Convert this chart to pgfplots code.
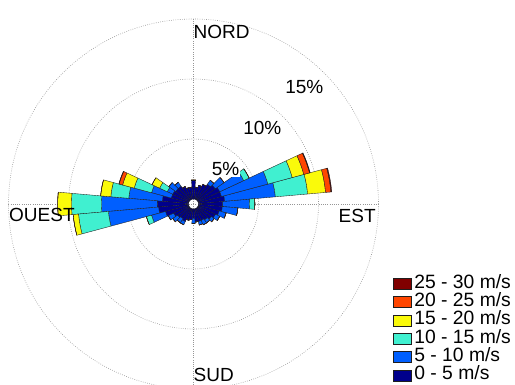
\documentclass[border=0pt]{standalone}
\usepackage{fontspec}
\setmainfont{Liberation Sans}
\usepackage{pgfplots}
\usepackage{pgfplotstable}
\pgfplotsset{compat=1.18}

\definecolor{cN}{RGB}{0,0,140}
\definecolor{cB}{RGB}{0,95,255}
\definecolor{cC}{RGB}{64,240,208}
\definecolor{cY}{RGB}{250,250,10}
\definecolor{cO}{RGB}{255,70,0}
\definecolor{cR}{RGB}{128,0,0}
\definecolor{edgecol}{RGB}{30,30,30}
\definecolor{gridcol}{RGB}{150,150,150}

% annular sector drawn around the rose centre; the mark sits at the outer tip of the segment
\pgfdeclareplotmark{wedge}{%
  \pgfmathsetmacro\wRa{5+12*\wL}%
  \pgfmathsetmacro\wRb{5+12*\wH}%
  \pgfmathsetmacro\wOx{-\wRb*cos(\wT)}%
  \pgfmathsetmacro\wOy{-\wRb*sin(\wT)}%
  \pgfmathsetmacro\wAa{\wT-5}%
  \pgfmathsetmacro\wAb{\wT+5}%
  \pgfpathmoveto{\pgfpointadd{\pgfpoint{\wOx pt}{\wOy pt}}{\pgfpointpolar{\wAa}{\wRa pt}}}%
  \pgfpatharc{\wAa}{\wAb}{\wRa pt}%
  \pgfpathlineto{\pgfpointadd{\pgfpoint{\wOx pt}{\wOy pt}}{\pgfpointpolar{\wAb}{\wRb pt}}}%
  \pgfpatharc{\wAb}{\wAa}{\wRb pt}%
  \pgfpathclose
  \pgfusepathqfillstroke
}

% direction (deg, counter-clockwise from East) and frequency (%) per speed class
\pgfplotstableread{
t    n    b    c    y    o    r
0    2.0  2.25 0.45 0    0    0
10   2.2  4.23 2.7  1.5  0.45 0.07
20   2.0  4.0  2.1  1.0  0.5  0.05
30   2.0  2.2  0.5  0    0    0
40   1.8  0.9  0    0    0    0
50   1.6  0.4  0    0    0    0
60   1.4  0    0    0    0    0
70   1.2  0    0    0    0    0
80   1.0  0    0    0    0    0
90   1.6  0    0    0    0    0
100  1.0  0    0    0    0    0
110  1.0  0    0    0    0    0
120  1.2  0    0    0    0    0
130  1.4  0.4  0    0    0    0
140  1.4  0.7  0    0    0    0
150  1.5  0.5  0.7  0.7  0    0
160  1.5  1.7  1.5  1.0  0.3  0.03
170  2.2  2.8  1.5  0.85 0    0
180  2.6  4.65 2.5  1.15 0    0
190  2.5  4.2  2.5  0.45 0    0
200  2.0  1.2  0.45 0    0    0
210  1.4  0.5  0    0    0    0
220  1.2  0.5  0    0    0    0
230  1.1  0.4  0    0    0    0
240  1.2  0.3  0    0    0    0
250  1.0  0    0    0    0    0
260  0.9  0    0    0    0    0
270  0.8  0.4  0    0    0    0
280  1.1  0    0    0    0    0
290  1.1  0.3  0    0    0    0
300  1.1  0.4  0    0    0    0
310  1.2  0.3  0    0    0    0
320  1.4  0.3  0    0    0    0
330  1.6  0.4  0    0    0    0
340  1.8  0.6  0    0    0    0
350  2.0  1.3  0    0    0    0
}\winddata

\newcommand\windclass[3]{%
  \addplot[forget plot, only marks, mark=wedge,
    mark options={fill=#3, draw=edgecol, line width=0.35pt},
    visualization depends on={\thisrow{t} \as \wT},
    visualization depends on={#1 \as \wL},
    visualization depends on={#2 \as \wH},
  ] table[x expr={(#2+0.4167)*cos(\thisrow{t})},
          y expr={(#2+0.4167)*sin(\thisrow{t})}] {\winddata};
}

\pgfplotsset{
  sq/.style={legend image code/.code={\draw[fill=#1,draw=edgecol,line width=0.35pt] (0pt,-5.5pt) rectangle (17.5pt,5.5pt);}},
}
\tikzset{gridline/.style={draw=gridcol, line width=0.6pt, dash pattern=on 0.7pt off 1.5pt}}

\begin{document}
\fontsize{19}{22}\selectfont
\begin{tikzpicture}
% polar grid
\draw[gridline] (0,0) circle[radius=65pt];
\draw[gridline] (0,0) circle[radius=125pt];
\draw[gridline] (0,0) circle[radius=185pt];
\draw[gridline] (0pt,-185pt) -- (0pt,185pt);
\draw[gridline] (-185pt,0pt) -- (185pt,0pt);
\begin{axis}[
  at={(0,0)}, anchor=center,
  x=12pt, y=12pt,
  xmin=-15.4167, xmax=15.4167, ymin=-15.4167, ymax=15.4167,
  hide axis, clip=false,
  legend cell align=left,
  legend style={draw=none, fill=none, inner sep=0pt, outer sep=0pt,
    at={(1.0392,0.3095)}, anchor=north west,
    row sep=0pt, column sep=3.5pt,
    font=\fontsize{19.3}{22}\selectfont,
    nodes={inner sep=0pt, text height=13.6pt, text depth=4.73pt}},
]
\windclass{0}{\thisrow{n}}{cN}
\windclass{\thisrow{n}}{\thisrow{n}+\thisrow{b}}{cB}
\windclass{\thisrow{n}+\thisrow{b}}{\thisrow{n}+\thisrow{b}+\thisrow{c}}{cC}
\windclass{\thisrow{n}+\thisrow{b}+\thisrow{c}}{\thisrow{n}+\thisrow{b}+\thisrow{c}+\thisrow{y}}{cY}
\windclass{\thisrow{n}+\thisrow{b}+\thisrow{c}+\thisrow{y}}{\thisrow{n}+\thisrow{b}+\thisrow{c}+\thisrow{y}+\thisrow{o}}{cO}
\windclass{\thisrow{n}+\thisrow{b}+\thisrow{c}+\thisrow{y}+\thisrow{o}}{\thisrow{n}+\thisrow{b}+\thisrow{c}+\thisrow{y}+\thisrow{o}+\thisrow{r}}{cR}
\addlegendimage{sq=cR}\addlegendentry{25 - 30 m/s}
\addlegendimage{sq=cO}\addlegendentry{20 - 25 m/s}
\addlegendimage{sq=cY}\addlegendentry{15 - 20 m/s}
\addlegendimage{sq=cC}\addlegendentry{10 - 15 m/s}
\addlegendimage{sq=cB}\addlegendentry{5 - 10 m/s}
\addlegendimage{sq=cN}\addlegendentry{0 - 5 m/s}
\end{axis}
\node[anchor=west, inner sep=0pt] at (0pt,172.3pt) {NORD};
\node[anchor=west, inner sep=0pt] at (145pt,-11.5pt) {EST};
\node[anchor=west, inner sep=0pt] at (-184.5pt,-11pt) {OUEST};
\node[anchor=west, inner sep=0pt] at (0pt,-171pt) {SUD};
\node[fill=white, inner sep=1pt] at (32pt,34.8pt) {5\%};
\node[fill=white, inner sep=1pt] at (68.8pt,76.2pt) {10\%};
\node[fill=white, inner sep=1pt] at (110.8pt,117.3pt) {15\%};
\pgfresetboundingbox
\path[use as bounding box] (-193.5pt,-181pt) rectangle (321.5pt,204pt);
\end{tikzpicture}
\end{document}
